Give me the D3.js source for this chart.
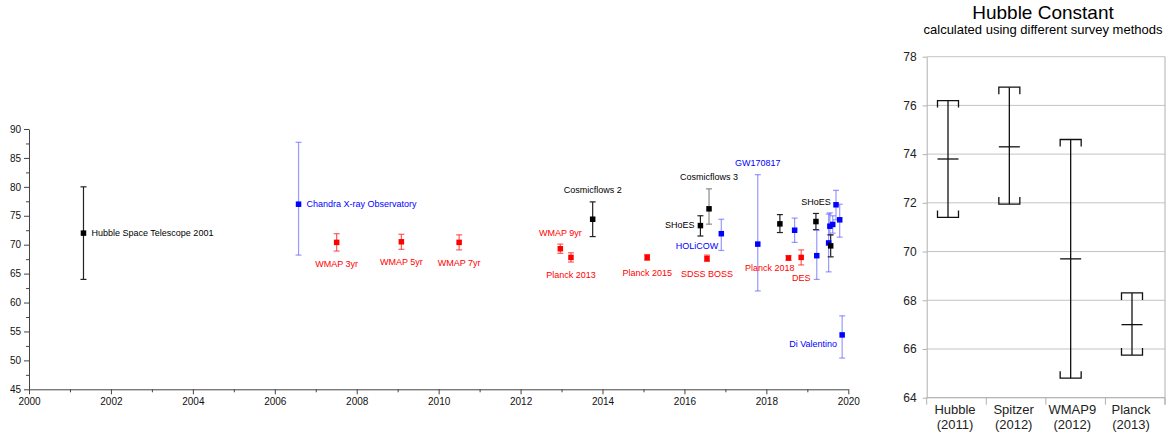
<!DOCTYPE html>
<html><head><meta charset="utf-8">
<script src="https://cdn.jsdelivr.net/npm/d3@7"></script>
<style>
body{margin:0;background:#fff;}
svg{display:block;font-family:"Liberation Sans",Arial,sans-serif;}
</style></head><body>
<svg id="c" width="1172" height="437"></svg>
<script>
// ---------- Left chart data ----------
const pointNames = ["Hubble Space Telescope 2001","Chandra X-ray Observatory","WMAP 3yr","WMAP 5yr","WMAP 7yr","WMAP 9yr","Planck 2013","Cosmicflows 2","Planck 2015","SHoES","SDSS BOSS","Cosmicflows 3","HOLiCOW","GW170817","SHoES 2018","Planck 2018","H0 2018b","DES","SHoES","H0 2019a","H0 2019b","H0 2019c","TRGB 2019","H0 2019d","H0 2019e","H0 2019f","Di Valentino"];
const pointYears = [2001.33,2006.58,2007.51,2009.09,2010.50,2012.97,2013.23,2013.76,2015.09,2016.39,2016.55,2016.60,2016.90,2017.79,2018.33,2018.54,2018.69,2018.85,2019.21,2019.23,2019.52,2019.55,2019.57,2019.62,2019.70,2019.79,2019.85];
const pointValues = [72.0,77.0,70.4,70.5,70.4,69.3,67.8,74.4,67.8,73.3,67.6,76.2,71.9,70.1,73.6,67.7,72.5,67.8,74.0,68.1,70.3,73.2,69.8,73.5,76.9,74.3,54.4];
const errMinus = [8.0,8.8,1.5,1.3,1.3,0.8,0.8,3.0,0.5,1.8,0.5,2.65,2.9,8.1,1.5,0.4,2.1,1.3,1.4,4.1,5.0,1.5,1.9,1.5,2.6,3.0,4.0];
const errPlus  = [8.0,10.7,1.5,1.3,1.3,0.8,0.8,3.0,0.5,1.7,0.6,3.45,2.5,12.0,1.6,0.4,2.1,1.3,1.4,4.4,5.0,2.3,1.9,1.5,2.5,2.7,3.3];
const pointGroups = ["black","blue","red","red","red","red","red","black","red","black","red","grey","blue","blue","black","red","blue","red","black","blue","blue","blue","black","blue","blue","blue","blue"];
// labels: [text, point index, side]
const pointLabels = [
  ["Hubble Space Telescope 2001",0,"right"],
  ["Chandra X-ray Observatory",1,"right"],
  ["WMAP 3yr",2,"below"],["WMAP 5yr",3,"below"],["WMAP 7yr",4,"below"],
  ["WMAP 9yr",5,"above"],["Planck 2013",6,"below"],["Cosmicflows 2",7,"above"],
  ["Planck 2015",8,"below"],["SHoES",9,"left"],["SDSS BOSS",10,"below"],
  ["Cosmicflows 3",11,"above"],["HOLiCOW",12,"belowleft"],["GW170817",13,"above"],
  ["Planck 2018",15,"belowleft2"],["DES",17,"below"],["SHoES",18,"above"],
  ["Di Valentino",26,"belowleft3"]
];
const xTicksMajor = [2000,2002,2004,2006,2008,2010,2012,2014,2016,2018,2020];
const xTicksMinor = [2001,2003,2005,2007,2009,2011,2013,2015,2017,2019];
const yTicksMajor = [45,50,55,60,65,70,75,80,85,90];
const yTicksMinor = [47.5,52.5,57.5,62.5,67.5,72.5,77.5,82.5,87.5];

// ---------- Right chart data ----------
const surveyNames = [["Hubble","(2011)"],["Spitzer","(2012)"],["WMAP9","(2012)"],["Planck","(2013)"]];
const surveyMean = [73.8,74.3,69.7,67.0];
const surveyHigh = [76.2,76.75,74.6,68.3];
const surveyLow  = [71.4,71.95,64.8,65.75];
const rightTicks = [64,66,68,70,72,74,76,78];
const rightTitle = "Hubble Constant";
const rightSubtitle = "calculated using different survey methods";

const svg = d3.select("#c");
svg.append("rect").attr("width",1172).attr("height",437).attr("fill","#fff");

// ===== Left chart =====
const x = d3.scaleLinear().domain([2000,2020]).range([29,848.3]);
const y = d3.scaleLinear().domain([45,90]).range([389.3,129]);
const axisColor = "#444";
const L = svg.append("g");

function styleAxis(g){
  g.select(".domain").attr("stroke",axisColor);
  g.selectAll(".tick line").attr("stroke",axisColor);
  g.selectAll(".tick text").attr("fill","#111").style("font-size","10px").style("font-family","'Liberation Sans',Arial,sans-serif");
}
const gxMinor = L.append("g").attr("transform",`translate(0,${y(45)})`)
  .call(d3.axisBottom(x).tickValues(xTicksMinor).tickSize(3).tickFormat(""));
gxMinor.select(".domain").remove(); gxMinor.selectAll("line").attr("stroke",axisColor);
const gx = L.append("g").attr("transform",`translate(0,${y(45)})`)
  .call(d3.axisBottom(x).tickValues(xTicksMajor).tickSize(5).tickSizeOuter(0).tickPadding(4).tickFormat(d3.format("d")));
styleAxis(gx);
const gyMinor = L.append("g").attr("transform",`translate(${x(2000)},0)`)
  .call(d3.axisLeft(y).tickValues(yTicksMinor).tickSize(3).tickFormat(""));
gyMinor.select(".domain").remove(); gyMinor.selectAll("line").attr("stroke",axisColor);
const gy = L.append("g").attr("transform",`translate(${x(2000)},0)`)
  .call(d3.axisLeft(y).tickValues(yTicksMajor).tickSize(5).tickSizeOuter(0).tickPadding(3));
styleAxis(gy);

const markColor = {black:"#000",grey:"#000",blue:"#0000ff",red:"#ff0000"};
const barColor = {black:"#222",grey:"#8a8a8a",blue:"rgba(70,70,255,0.55)",red:"rgba(255,40,40,0.75)"};
const textColor = {black:"#000",grey:"#000",blue:"#0000ff",red:"#ff0000"};

const pts = pointYears.map((yr,i)=>({yr,v:pointValues[i],lo:pointValues[i]-errMinus[i],hi:pointValues[i]+errPlus[i],g:pointGroups[i]}));
const cap = 3;
const eb = L.append("g").selectAll("g").data(pts).join("g")
  .attr("stroke",d=>barColor[d.g]).attr("stroke-width",1.2).attr("fill","none");
eb.append("line").attr("x1",d=>x(d.yr)).attr("x2",d=>x(d.yr)).attr("y1",d=>y(d.lo)).attr("y2",d=>y(d.hi));
eb.append("line").attr("x1",d=>x(d.yr)-cap).attr("x2",d=>x(d.yr)+cap).attr("y1",d=>y(d.lo)).attr("y2",d=>y(d.lo));
eb.append("line").attr("x1",d=>x(d.yr)-cap).attr("x2",d=>x(d.yr)+cap).attr("y1",d=>y(d.hi)).attr("y2",d=>y(d.hi));
const sz = 5.5;
L.append("g").selectAll("rect").data(pts).join("rect")
  .attr("x",d=>x(d.yr)-sz/2).attr("y",d=>y(d.v)-sz/2).attr("width",sz).attr("height",sz)
  .attr("fill",d=>markColor[d.g]);

const lab = L.append("g").style("font-size","9px");
pointLabels.forEach(([t,i,side])=>{
  const d = pts[i]; const px = x(d.yr), py = y(d.v);
  let tx=px, ty=py, anchor="middle";
  if(side==="right"){tx=px+8; ty=py+2.5; anchor="start";}
  else if(side==="left"){tx=px-6; ty=py+2; anchor="end";}
  else if(side==="above"){ty=y(d.hi)-8.5;}
  else if(side==="below"){ty=y(d.lo)+16;}
  else if(side==="belowleft"){tx=px-3; ty=py+15.5; anchor="end";}
  else if(side==="belowleft2"){tx=px+6; ty=py+13.5; anchor="end";}
  else if(side==="belowleft3"){tx=px-5; ty=py+12.5; anchor="end";}
  lab.append("text").attr("x",tx).attr("y",ty).attr("text-anchor",anchor)
    .attr("fill",textColor[d.g]).text(t);
});

// ===== Right chart =====
const R = svg.append("g");
const x0 = 926.7, x1 = 1165;
const y2 = d3.scaleLinear().domain([64,78]).range([397.7,56.7]);
const band = d3.scaleBand().domain(d3.range(surveyNames.length)).range([x0,x1]);
const pos = d3.scalePoint().domain(d3.range(surveyNames.length)).range([948,1132]);
const labPos = d3.scalePoint().domain(d3.range(surveyNames.length)).range([955,1131]);

R.append("g").selectAll("line").data(rightTicks).join("line")
  .attr("x1",x0).attr("x2",x1).attr("y1",d=>y2(d)).attr("y2",d=>y2(d))
  .attr("stroke","#c4c4c4").attr("stroke-width",1);
const gy2 = R.append("g").attr("transform",`translate(${x0},0)`)
  .call(d3.axisLeft(y2).tickValues(rightTicks).tickSize(4).tickSizeOuter(0).tickPadding(6).tickFormat(d3.format("d")));
gy2.select(".domain").attr("stroke","#b0b0b0");
gy2.selectAll(".tick line").attr("stroke","#b0b0b0");
gy2.selectAll(".tick text").attr("fill","#222").style("font-size","12px");
// right border
R.append("line").attr("x1",x1).attr("x2",x1).attr("y1",y2(78)).attr("y2",y2(64)+7).attr("stroke","#b0b0b0");
// bottom axis and dividers
R.append("line").attr("x1",x0).attr("x2",x1).attr("y1",y2(64)).attr("y2",y2(64)).attr("stroke","#b0b0b0");
R.append("g").selectAll("line").data(d3.range(surveyNames.length+1)).join("line")
  .attr("x1",d=>d<surveyNames.length?band(d):x1).attr("x2",d=>d<surveyNames.length?band(d):x1)
  .attr("y1",y2(64)).attr("y2",y2(64)+7).attr("stroke","#b0b0b0");
// category labels
const cl = R.append("g").style("font-size","13px").attr("fill","#222").attr("text-anchor","middle");
surveyNames.forEach((n,i)=>{
  cl.append("text").attr("x",labPos(i)).attr("y",414).text(n[0]);
  cl.append("text").attr("x",labPos(i)).attr("y",428.5).text(n[1]);
});
// error bars
const hw = 10.5, tk = 7;
surveyMean.forEach((m,i)=>{
  const g = R.append("g").attr("stroke","#111").attr("stroke-width",1.3).attr("fill","none");
  const cx = pos(i);
  g.append("line").attr("x1",cx).attr("x2",cx).attr("y1",y2(surveyHigh[i])).attr("y2",y2(surveyLow[i]));
  g.append("path").attr("d",`M${cx-hw},${y2(surveyHigh[i])+tk}V${y2(surveyHigh[i])}H${cx+hw}V${y2(surveyHigh[i])+tk}`);
  g.append("path").attr("d",`M${cx-hw},${y2(surveyLow[i])-tk}V${y2(surveyLow[i])}H${cx+hw}V${y2(surveyLow[i])-tk}`);
  g.append("line").attr("x1",cx-hw).attr("x2",cx+hw).attr("y1",y2(m)).attr("y2",y2(m));
});
// titles
R.append("text").attr("x",1043).attr("y",19).attr("text-anchor","middle").style("font-size","19px").attr("fill","#000").text(rightTitle);
R.append("text").attr("x",1043).attr("y",34).attr("text-anchor","middle").style("font-size","13px").attr("fill","#000").text(rightSubtitle);
</script>
</body></html>
